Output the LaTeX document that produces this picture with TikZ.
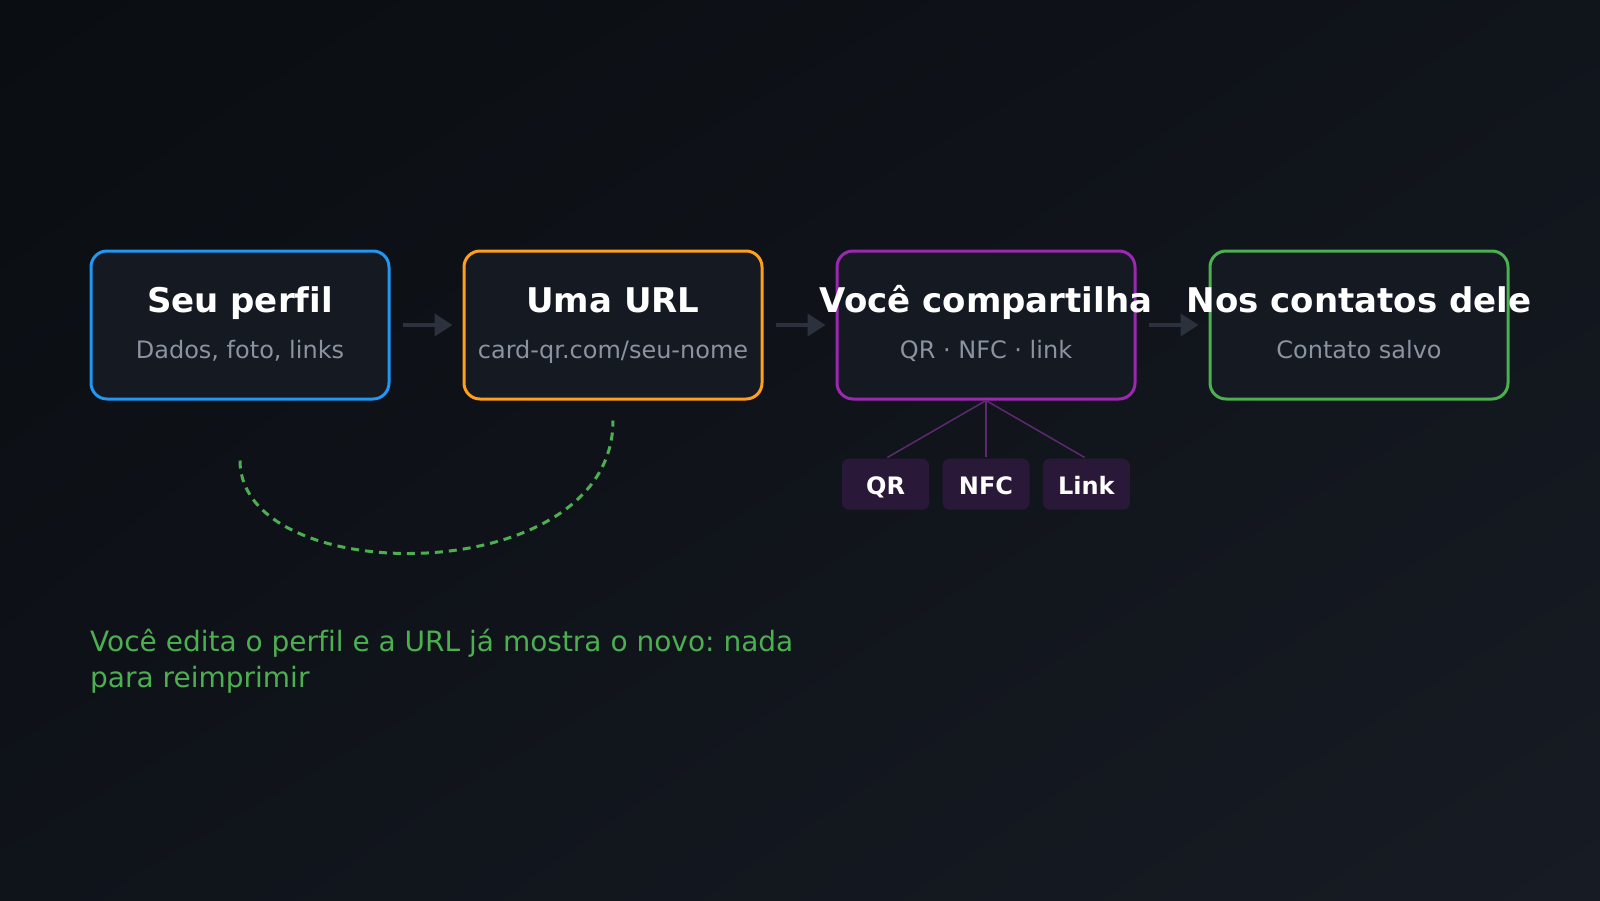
\documentclass[tikz,border=0pt]{standalone}
\usepackage{fontspec}
\setmainfont{DejaVu Sans}[Ligatures=NoCommon]
\frenchspacing
\usepackage{xcolor}
\usetikzlibrary{positioning, arrows.meta, calc, shadings}
\definecolor{bgtopleft}{HTML}{0A0D11}
\definecolor{bgtopright}{HTML}{10141B}
\definecolor{bgbottomleft}{HTML}{0F131A}
\definecolor{bgbottomright}{HTML}{171B23}
\definecolor{cardfill}{HTML}{141922}
\definecolor{subgray}{HTML}{8B93A0}
\definecolor{arrowgray}{HTML}{2C323D}
\definecolor{profileblue}{HTML}{2196F3}
\definecolor{urlorange}{HTML}{FF9F1C}
\definecolor{sharepurple}{HTML}{9C27B0}
\definecolor{savedgreen}{HTML}{4CAF50}
\definecolor{chipfill}{HTML}{2A1838}
\definecolor{chipline}{HTML}{5C2A6E}

\tikzset{
    card/.style={draw=#1, fill=cardfill, line width=3pt, rounded corners=16pt,
                 minimum width=298pt, minimum height=148pt, inner sep=0pt},
    cardtitle/.style={anchor=base, text=white, font=\bfseries\fontsize{34}{40}\selectfont},
    cardsub/.style={anchor=base, text=subgray, font=\fontsize{24}{28}\selectfont},
    flowarrow/.style={draw=arrowgray, fill=arrowgray, line width=4pt,
                      -{Triangle[length=18pt, width=22pt]}},
    chip/.style={fill=chipfill, rounded corners=7pt, minimum width=87pt, minimum height=51pt,
                 inner sep=0pt, text height=21.5pt, text depth=0pt,
                 text=white, font=\bfseries\fontsize{24}{28}\selectfont},
    chiplink/.style={draw=chipline, line width=1.5pt, shorten >=2pt},
    editloop/.style={draw=savedgreen, line width=3pt, dash pattern=on 8pt off 6pt}
}

\begin{document}
\begin{tikzpicture}[x=1pt, y=1pt, node distance=72pt]
    \shade[upper left=bgtopleft, upper right=bgtopright,
           lower left=bgbottomleft, lower right=bgbottomright] (0,0) rectangle (1600,-900);
    \useasboundingbox (0,0) rectangle (1600,-900);

    \node[card=profileblue] (perfil) at (240,-325) {};
    \node[card=urlorange, right=of perfil] (url) {};
    \node[card=sharepurple, right=of url] (share) {};
    \node[card=savedgreen, right=of share] (contatos) {};

    \node[cardtitle] (perfiltitle) at ([yshift=13pt]perfil.center) {Seu perfil};
    \node[cardsub] (perfilsub) at ([yshift=-33pt]perfil.center) {Dados, foto, links};
    \node[cardtitle] (urltitle) at ([yshift=13pt]url.center) {Uma URL};
    \node[cardsub] (urlsub) at ([yshift=-33pt]url.center) {card-qr.com/seu-nome};
    \node[cardtitle] (sharetitle) at ([yshift=13pt]share.center) {Você compartilha};
    \node[cardsub] (sharesub) at ([yshift=-33pt]share.center) {QR · NFC · link};
    \node[cardtitle] (contatostitle) at ([yshift=13pt]contatos.center) {Nos contatos dele};
    \node[cardsub] (contatossub) at ([yshift=-33pt]contatos.center) {Contato salvo};

    \draw[flowarrow] ([xshift=12pt]perfil.east) -- ([xshift=-10pt]url.west);
    \draw[flowarrow] ([xshift=12pt]url.east) -- ([xshift=-10pt]share.west);
    \draw[flowarrow] ([xshift=12pt]share.east) -- ([xshift=-10pt]contatos.west);

    \node[chip, below=58pt of share] (nfc) {NFC};
    \node[chip, left=13pt of nfc] (qr) {QR};
    \node[chip, right=13pt of nfc] (link) {Link};
    \draw[chiplink] (share.south) -- (qr.north);
    \draw[chiplink] (share.south) -- (nfc.north);
    \draw[chiplink] (share.south) -- (link.north);

    \coordinate (loopstart) at ([yshift=-60pt]perfil.south);
    \coordinate (loopend) at ([yshift=-20pt]url.south);
    \draw[editloop] (loopstart) .. controls +(0,-130) and +(0,-170) .. (loopend);

    \node[anchor=base west, align=left, inner sep=0pt, text=savedgreen,
          font=\fontsize{28}{36}\selectfont] (nota) at (90,-687)
          {Você edita o perfil e a URL já mostra o novo: nada\\para reimprimir};
\end{tikzpicture}
\end{document}
